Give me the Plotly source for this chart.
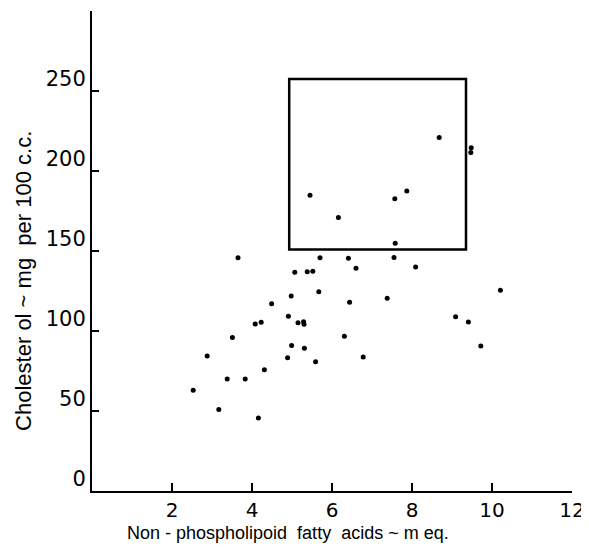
import plotly.graph_objects as go

# Data (non-phospholipid fatty acids vs cholesterol)
fatty_acids = [8.68, 9.48, 9.47, 5.45, 7.87, 7.57, 6.16, 7.58, 5.70, 6.41, 7.55, 3.65,
               5.07, 5.38, 5.52, 5.67, 4.98, 4.49, 4.91, 5.15, 5.29, 5.30, 4.08, 4.23,
               3.51, 4.99, 5.31, 4.89, 5.59, 2.88, 4.31, 3.38, 3.83, 2.53, 3.17, 4.16,
               6.60, 8.09, 6.44, 7.38, 10.21, 9.09, 9.41, 9.72, 6.31, 6.78]
cholesterol = [221.0, 214.6, 211.5, 184.8, 187.5, 182.7, 171.0, 154.8, 145.8, 145.4, 146.0, 145.8,
               136.7, 137.0, 137.3, 124.6, 121.9, 117.1, 109.2, 105.2, 105.8, 104.2, 104.4, 105.4,
               96.0, 91.0, 89.2, 83.3, 80.8, 84.4, 75.8, 70.0, 70.0, 62.9, 51.0, 45.6,
               139.2, 140.0, 117.9, 120.4, 125.4, 108.9, 105.6, 90.6, 96.7, 83.75]

x_ticks = [2, 4, 6, 8, 10, 12]
y_ticks = [0, 50, 100, 150, 200, 250]
box_x = [4.93, 9.35]
box_y = [151.0, 257.5]

x_title = "Non - phospholipoid  fatty  acids ~ m eq."
y_title = "Cholester ol ~ mg  per 100 c.c."

FONT = "Liberation Sans"
TICKFONT = "DejaVu Sans"

fig = go.Figure()
fig.add_trace(go.Scatter(
    x=fatty_acids, y=cholesterol, mode="markers",
    marker=dict(color="black", size=5, line=dict(width=0)),
    showlegend=False, hoverinfo="x+y"))

fig.add_shape(type="rect", x0=box_x[0], x1=box_x[1], y0=box_y[0], y1=box_y[1],
              xref="x", yref="y", line=dict(color="black", width=2.5))

# The page body adds an 8px margin, so the figure is sized/placed to compensate.
fig.update_layout(
    width=581, height=541,
    margin=dict(l=84, r=17, t=3, b=58, autoexpand=False),
    paper_bgcolor="white", plot_bgcolor="white",
    font=dict(family=FONT, color="black"),
    xaxis=dict(range=[0, 12], tickvals=x_ticks, ticktext=[str(v) for v in x_ticks],
               showgrid=False, zeroline=False, showline=True, linecolor="black", linewidth=2,
               ticks="inside", ticklen=8, tickwidth=1.5, tickcolor="black", automargin=False,
               tickfont=dict(size=20, family=TICKFONT), ticklabelstandoff=0),
    yaxis=dict(range=[0, 300], tickvals=y_ticks, ticktext=[str(v) for v in y_ticks],
               showgrid=False, zeroline=False, showline=True, linecolor="black", linewidth=2,
               ticks="inside", ticklen=7, tickwidth=1.5, tickcolor="black", automargin=False,
               tickfont=dict(size=21, family=TICKFONT), ticklabelshift=-12, ticklabelstandoff=0),
)

fig.add_annotation(text=x_title, xref="paper", yref="paper", x=0.408, y=-0.088,
                   showarrow=False, font=dict(size=18, family=FONT, color="black"),
                   xanchor="center", yanchor="middle")
fig.add_annotation(text=y_title, xref="paper", yref="paper", x=-0.144, y=0.4375,
                   showarrow=False, textangle=-90, font=dict(size=22, family=FONT, color="black"),
                   xanchor="center", yanchor="middle")

fig.write_html("out.html")
